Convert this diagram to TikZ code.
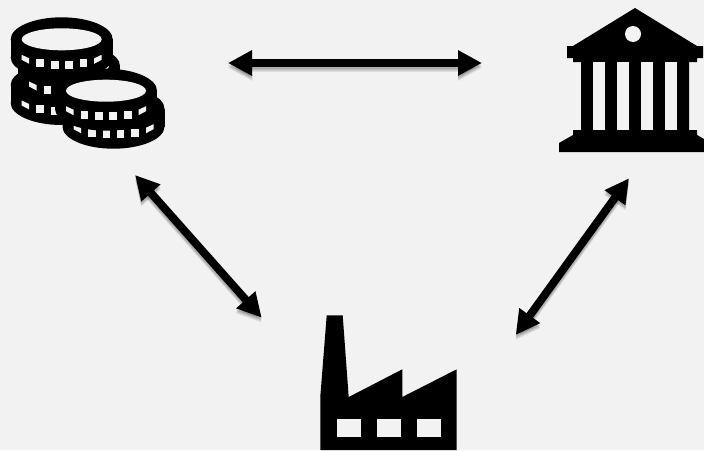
\documentclass[tikz,border=0pt]{standalone}
\usepackage{tikz}
\usetikzlibrary{arrows.meta}
\definecolor{pagegray}{HTML}{F2F2F2}
\tikzset{
  icon/.style={fill=black},
  hole/.style={fill=pagegray},
  link/.style={{Triangle[length=24pt,width=24pt]}-{Triangle[length=24pt,width=24pt]}, line width=8pt, color=black},
  linkshade/.style={link, opacity=0.08},
  % one coin seen from above
  pics/coin/.style={code={
    \fill[icon] (0,0) ellipse [x radius=51, y radius=22];
    \fill[icon] (-51,0) rectangle (51,18);
    \fill[icon] (0,18) ellipse [x radius=51, y radius=22];
    \fill[hole] (0,0) ellipse [x radius=40, y radius=11];
    \foreach \wx/\wy in {-21.7/24,-7/25.5,7/25.5,21.7/24} {
      \fill[hole] (\wx-3.8,\wy-4) rectangle ++(7.6,8);
    }
    \fill[hole] (-40,15.5) -- (-32.5,19) -- (-32.5,24.5) -- (-40,20.5) -- cycle;
    \fill[hole] (40,15.5) -- (32.5,19) -- (32.5,24.5) -- (40,20.5) -- cycle;
  }},
}
\begin{document}
\begin{tikzpicture}[x=1pt,y=-1pt]
  \useasboundingbox (0,0) rectangle (704,450);
  \clip (0,0) rectangle (704,450);
  \fill[pagegray] (0,0) rectangle (704,450);
  % coins
  \pic at (61.7,85) {coin};
  \pic at (69,66) {coin};
  \pic at (61.7,39.3) {coin};
  \pic at (113.5,108.7) {coin};
  \pic at (106,90.7) {coin};
  % bank
  \fill[icon] (635,8) -- (697,46) -- (703,46) -- (703,58) -- (697,58) -- (697,62) -- (689,62)
    -- (689,130) -- (697,130) -- (697,135) -- (711,143) -- (711,152) -- (559,152) -- (559,143)
    -- (573,135) -- (573,130) -- (581,130) -- (581,62) -- (573,62) -- (573,58) -- (567,58)
    -- (567,46) -- (573,46) -- cycle;
  \fill[hole] (633,34) circle (8);
  \foreach \gx in {593.3,617.3,641.3,665.3} {
    \fill[hole] (\gx,62.3) rectangle ++(12,67.7);
  }
  % factory
  \fill[icon] (326.7,315.3) -- (342.7,315.3) -- (348.7,397) -- (402.3,369.3) -- (402.3,397)
    -- (456.7,369.3) -- (456.7,450) -- (320.3,450) -- (320.3,396.7) -- cycle;
  \foreach \wx in {336.7,376.7,416.7} {
    \fill[hole] (\wx,419.3) rectangle ++(24,18);
  }
  % arrows
  \coordinate (coinsE) at (228,63);
  \coordinate (bankW) at (482,63);
  \coordinate (coinsS) at (135,175);
  \coordinate (factoryNW) at (261.7,317.7);
  \coordinate (bankS) at (629,178.3);
  \coordinate (factoryNE) at (515.7,335);
  \foreach \from/\to in {coinsE/bankW,coinsS/factoryNW,bankS/factoryNE} {
    \draw[linkshade, transform canvas={shift={(0pt,-5pt)}}] (\from) -- (\to);
    \draw[linkshade, transform canvas={shift={(0pt,-4pt)}}] (\from) -- (\to);
    \draw[linkshade, transform canvas={shift={(0pt,-3pt)}}] (\from) -- (\to);
    \draw[linkshade, transform canvas={shift={(0pt,-2pt)}}] (\from) -- (\to);
    \draw[link] (\from) -- (\to);
  }
\end{tikzpicture}
\end{document}
